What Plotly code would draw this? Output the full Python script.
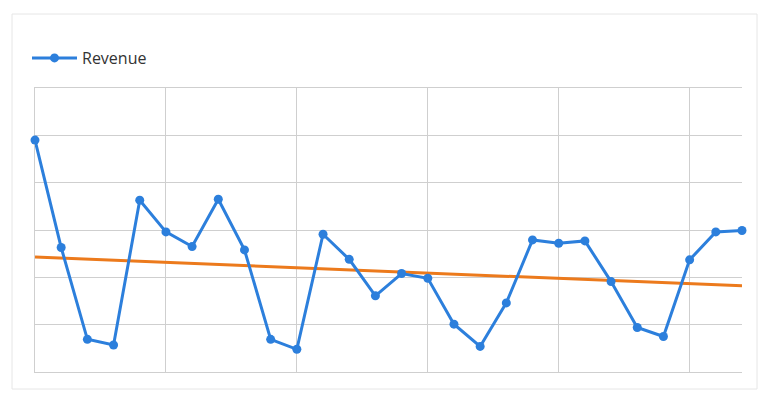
import plotly.graph_objects as go

# Data
x_idx = list(range(28))
revenue = [4.90, 2.63, 0.69, 0.57, 3.63, 2.96, 2.65, 3.65, 2.58, 0.69,
           0.48, 2.91, 2.38, 1.61, 2.08, 1.98, 1.01, 0.54, 1.46, 2.79,
           2.72, 2.77, 1.91, 0.94, 0.75, 2.37, 2.96, 2.99]
trend_x = [0, 27]
trend_y = [2.43, 1.82]

W, H = 761, 393
ml, mr, mt, mb = 35, 19, 88, 21
pw, ph = W - ml - mr, H - mt - mb

def px_x(p):
    return (p - ml) / pw

def px_y(p):
    return (H - mb - p) / ph

grid = "#cfcfcf"

fig = go.Figure()
fig.add_trace(go.Scatter(
    x=trend_x, y=trend_y, mode="lines", showlegend=False,
    line=dict(color="#ec7a1c", width=3), hoverinfo="skip"))
fig.add_trace(go.Scatter(
    x=x_idx, y=revenue, mode="lines+markers", name="Revenue",
    line=dict(color="#2c7fdc", width=3),
    marker=dict(color="#2c7fdc", size=9), cliponaxis=False))

fig.add_shape(type="rect", xref="paper", yref="paper",
              x0=px_x(12), x1=px_x(757), y0=px_y(389), y1=px_y(14),
              line=dict(color="#e6e6e6", width=1), fillcolor="rgba(0,0,0,0)",
              layer="below")

fig.update_layout(
    width=W, height=H,
    margin=dict(l=ml, r=mr, t=mt, b=mb),
    paper_bgcolor="white", plot_bgcolor="white",
    font=dict(family="Open Sans, Arial, sans-serif", size=16, color="#333333"),
    legend=dict(x=px_x(27), y=px_y(58), xanchor="left", yanchor="middle",
                itemwidth=45,
                bgcolor="rgba(0,0,0,0)", font=dict(size=16, color="#333333")),
    xaxis=dict(range=[0, 27], tick0=0, dtick=5, showgrid=True,
               gridcolor=grid, gridwidth=1, showticklabels=False,
               zeroline=False, showline=True, linecolor=grid, linewidth=1,
               mirror=True, ticks="", layer="below traces"),
    yaxis=dict(range=[0, 6], tick0=0, dtick=1, showgrid=True,
               gridcolor=grid, gridwidth=1, showticklabels=False,
               zeroline=False, showline=True, linecolor=grid, linewidth=1,
               mirror=False, ticks="", layer="below traces"),
)

fig.write_html("out.html")
